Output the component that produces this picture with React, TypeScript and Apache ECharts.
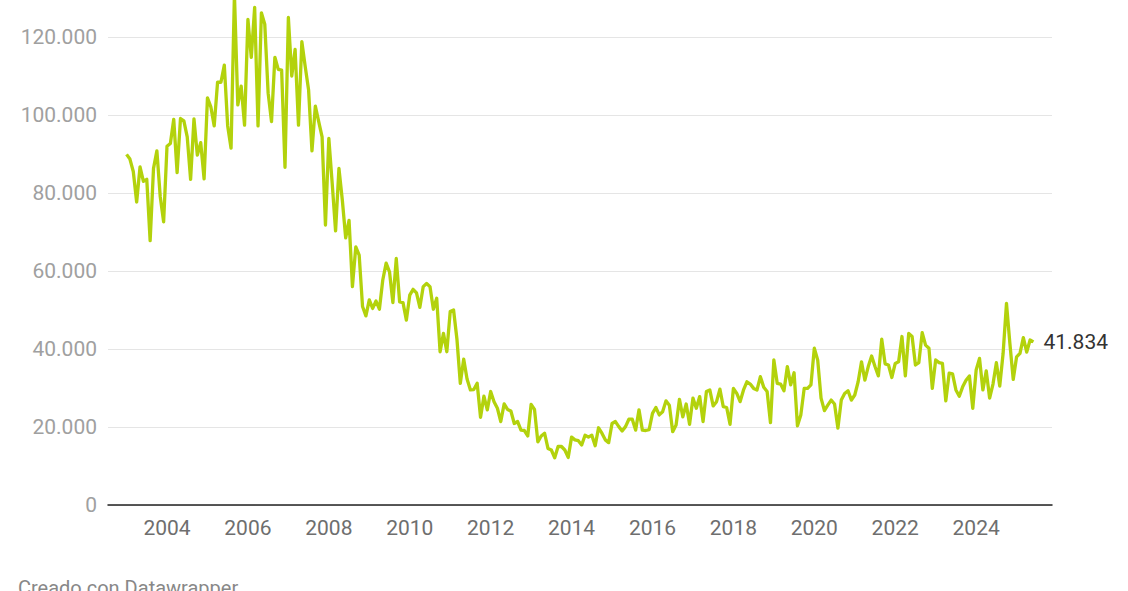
import { useEffect, useRef } from 'react'
import * as echarts from 'echarts'

// monthly values, in thousands (Jan 2003 – Jun 2025)
const y2003 = [89.9, 88.7, 85.5, 77.7, 86.7, 83.0, 83.5, 67.8, 86.3, 90.8, 79.0, 72.6]
const y2004 = [92.0, 92.7, 98.9, 85.2, 99.1, 98.5, 94.4, 83.5, 99.0, 89.7, 92.9, 83.6]
const y2005 = [104.4, 102.1, 97.2, 108.4, 108.4, 112.8, 97.2, 91.5, 131.0, 102.6, 107.4, 97.4]
const y2006 = [124.5, 114.8, 127.6, 97.2, 126.2, 123.3, 105.6, 98.3, 114.8, 111.7, 111.5, 86.6]
const y2007 = [125.0, 110.0, 116.8, 97.4, 118.8, 112.4, 106.4, 90.8, 102.3, 98.3, 94.4, 71.8]
const y2008 = [94.0, 82.5, 70.3, 86.3, 78.2, 68.5, 73.0, 56.0, 66.2, 64.1, 50.9, 48.5]
const y2009 = [52.6, 50.4, 52.3, 50.2, 57.7, 62.0, 59.8, 51.9, 63.2, 52.1, 51.9, 47.4]
const y2010 = [53.8, 55.3, 54.4, 50.7, 56.0, 56.8, 56.0, 50.2, 53.0, 39.3, 44.0, 39.3]
const y2011 = [49.6, 50.0, 42.5, 31.2, 37.4, 32.3, 29.5, 29.6, 31.2, 22.5, 27.9, 24.4]
const y2012 = [29.1, 26.5, 24.8, 21.4, 25.9, 24.5, 24.1, 20.9, 21.4, 19.2, 19.1, 17.7]
const y2013 = [25.8, 24.5, 16.2, 17.7, 18.4, 14.5, 14.1, 12.1, 15.0, 15.0, 14.1, 12.2]
const y2014 = [17.4, 16.7, 16.5, 15.4, 17.9, 17.4, 17.9, 15.2, 19.8, 18.4, 16.7, 16.0]
const y2015 = [20.9, 21.4, 20.1, 19.0, 20.1, 22.0, 22.0, 19.2, 24.4, 19.2, 19.1, 19.3]
const y2016 = [23.5, 25.0, 23.1, 23.9, 26.7, 25.6, 18.8, 20.5, 27.1, 22.6, 25.9, 20.7]
const y2017 = [27.4, 24.8, 27.8, 21.4, 29.1, 29.5, 25.4, 26.5, 29.7, 25.2, 25.0, 20.7]
const y2018 = [29.9, 28.6, 26.5, 29.5, 31.6, 31.0, 29.9, 29.5, 32.9, 30.2, 29.1, 21.1]
const y2019 = [37.2, 31.2, 31.0, 29.3, 35.5, 30.8, 33.9, 20.3, 23.1, 29.9, 29.9, 30.8]
const y2020 = [40.2, 37.2, 27.4, 24.2, 25.6, 26.9, 25.9, 19.7, 26.9, 28.6, 29.3, 26.9]
const y2021 = [28.2, 31.6, 36.7, 32.0, 35.5, 38.2, 35.5, 33.1, 42.5, 36.2, 35.9, 32.7]
const y2022 = [36.3, 36.7, 43.2, 33.1, 44.0, 43.2, 35.9, 36.5, 44.2, 41.0, 40.2, 29.9]
const y2023 = [37.2, 36.5, 36.3, 26.7, 33.8, 33.6, 29.5, 27.9, 30.3, 32.0, 33.1, 24.8]
const y2024 = [34.6, 37.6, 29.5, 34.4, 27.4, 31.0, 36.5, 30.5, 38.9, 51.7, 41.5, 32.2]
const y2025 = [38.0, 38.9, 42.9, 39.2, 42.3, 41.834]

const values = [
  ...y2003, ...y2004, ...y2005, ...y2006, ...y2007, ...y2008, ...y2009, ...y2010,
  ...y2011, ...y2012, ...y2013, ...y2014, ...y2015, ...y2016, ...y2017, ...y2018,
  ...y2019, ...y2020, ...y2021, ...y2022, ...y2023, ...y2024, ...y2025
]

// the axis runs from Aug 2002 to Nov 2025
const months: string[] = []
for (let i = 0; i < 280; i++) {
  const m = 7 + i
  const year = 2002 + Math.floor(m / 12)
  const month = (m % 12) + 1
  months.push(`${year}-${String(month).padStart(2, '0')}`)
}
const firstIndex = months.indexOf('2003-01')

const fmt = (v: number) =>
  String(Math.round(v * 1000)).replace(/\B(?=(\d{3})+(?!\d))/g, '.')

export default function App() {
  const ref = useRef<HTMLDivElement | null>(null)

  useEffect(() => {
    if (!ref.current) return
    const chart = echarts.init(ref.current, null, { renderer: 'svg' })

    chart.setOption({
      animation: false,
      backgroundColor: '#fff',
      textStyle: { fontFamily: 'Roboto' },
      grid: { left: 108, right: 76, top: -41, bottom: 86, outerBoundsMode: 'none' },
      xAxis: {
        type: 'category',
        data: months,
        boundaryGap: true,
        axisLine: { show: true, lineStyle: { color: '#222', width: 1.5 } },
        axisTick: { show: false },
        axisLabel: {
          interval: (_i: number, v: string) =>
            v.endsWith('-01') && Number(v.slice(0, 4)) % 2 === 0,
          formatter: (v: string) => v.slice(0, 4),
          color: '#6e6e6e',
          fontSize: 21,
          margin: 12,
          fontFamily: 'Roboto'
        }
      },
      yAxis: {
        type: 'value',
        min: 0,
        max: 140,
        interval: 20,
        axisLine: { show: false },
        axisTick: { show: false },
        splitLine: { lineStyle: { color: '#e5e5e5', width: 1 } },
        axisLabel: {
          formatter: (v: number) => fmt(v),
          showMaxLabel: false,
          color: '#a0a0a0',
          fontSize: 21,
          margin: 11,
          fontFamily: 'Roboto'
        }
      },
      series: [
        {
          type: 'line',
          data: values.map((v, i) => [months[firstIndex + i], v]),
          showSymbol: false,
          symbol: 'none',
          lineStyle: { color: '#b3d20c', width: 3.3, join: 'round' },
          itemStyle: { color: '#b3d20c' },
          endLabel: {
            show: true,
            formatter: (p: any) => fmt(p.value[1]),
            color: '#333',
            fontSize: 21,
            distance: 10,
            fontFamily: 'Roboto'
          }
        }
      ],
      graphic: [
        {
          type: 'text',
          left: 18,
          top: 578,
          style: {
            text: 'Creado con Datawrapper',
            fontSize: 20,
            fill: '#888',
            fontFamily: 'Roboto'
          }
        }
      ]
    })

    return () => chart.dispose()
  }, [])

  return (
    <div
      ref={ref}
      style={{ position: 'absolute', left: 0, top: 0, width: 1128, height: 591 }}
    />
  )
}
